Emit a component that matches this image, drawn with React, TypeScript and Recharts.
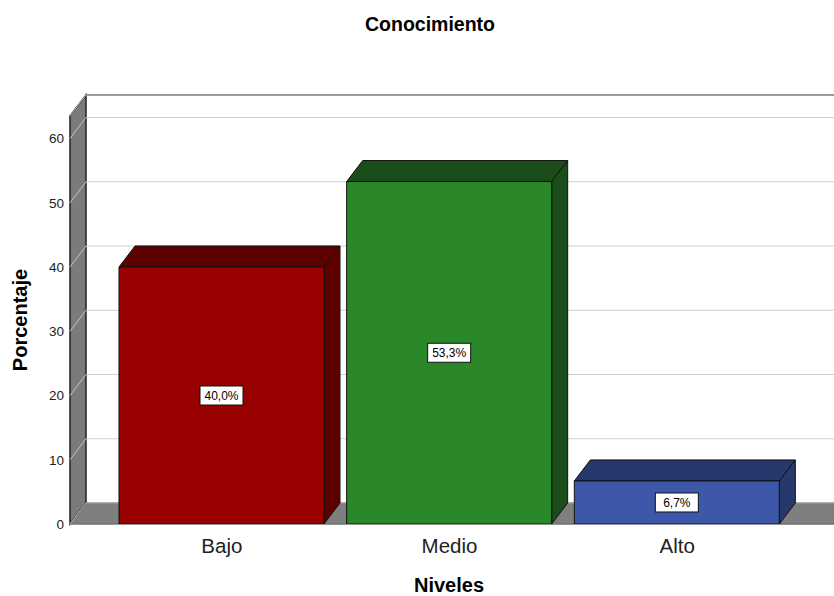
import React from 'react';
import { BarChart, Bar, XAxis, YAxis, CartesianGrid, LabelList } from 'recharts';

const categories = ['Bajo', 'Medio', 'Alto'];
const porcentajes = [40.0, 53.3, 6.7];
const yTicks = [0, 10, 20, 30, 40, 50, 60];

const data = categories.map((name, i) => ({ name, value: porcentajes[i] }));

// styles (by category)
const frontColors = ['#990000', '#2a882a', '#3d58a8'];
const topColors = ['#5e0000', '#1b4d1b', '#26386c'];

const W = 834;
const H = 596;
const PLOT_TOP = 116;
const X_AXIS_H = 72;
const AXIS_W = 70;
const DX = 16;
const DY = 21;
const FONT = '"Liberation Sans", Arial, sans-serif';

const fmt = (v: number) => v.toFixed(1).replace('.', ',') + '%';

const Bar3D = (props: any) => {
  const { x, y, width, height, payload } = props;
  const i = Math.max(0, categories.indexOf(payload?.name));
  const front = frontColors[i];
  const top = topColors[i];
  return (
    <g stroke="#111" strokeWidth={1} strokeLinejoin="round">
      <polygon
        points={`${x},${y} ${x + DX},${y - DY} ${x + width + DX},${y - DY} ${x + width},${y}`}
        fill={top}
      />
      <polygon
        points={`${x + width},${y} ${x + width + DX},${y - DY} ${x + width + DX},${y + height - DY} ${x + width},${y + height}`}
        fill={top}
      />
      <rect x={x} y={y} width={width} height={height} fill={front} />
    </g>
  );
};

const ValueBox = (props: any) => {
  const { x, y, width, height, value } = props;
  const cx = x + width / 2;
  const cy = y + height / 2;
  const txt = fmt(Number(value));
  const bw = 43;
  const bh = 19;
  return (
    <g>
      <rect x={cx - bw / 2} y={cy - bh / 2} width={bw} height={bh} fill="#fff" stroke="#111" strokeWidth={1} />
      <text x={cx} y={cy} dy="0.36em" textAnchor="middle" fontSize={12} fontFamily={FONT} fill="#000">
        {txt}
      </text>
    </g>
  );
};

const GridLine = (props: any) => {
  const { x1, x2, y1 } = props;
  return (
    <g key={props.key}>
      <line x1={x1} y1={y1} x2={x1 + DX} y2={y1 - DY} stroke="#c4c4c4" strokeWidth={1} />
      <line x1={x1 + DX} y1={y1 - DY} x2={x2 + DX} y2={y1 - DY} stroke="#cfcfcf" strokeWidth={1} />
    </g>
  );
};

const CatTick = (props: any) => {
  const { x, payload } = props;
  return (
    <text x={x} y={H - X_AXIS_H + 29} textAnchor="middle" fontSize={20.5} fontFamily={FONT} fill="#222">
      {payload.value}
    </text>
  );
};

const ValTick = (props: any) => {
  const { y, payload } = props;
  return (
    <text x={64} y={y} dy="0.36em" textAnchor="end" fontSize={13.5} fontFamily={FONT} fill="#222">
      {payload.value}
    </text>
  );
};

function Background() {
  const left = AXIS_W;
  const bottom = H - X_AXIS_H;
  const topY = PLOT_TOP;
  return (
    <svg width={W} height={H} style={{ position: 'absolute', left: 0, top: 0 }}>
      <rect x={0} y={0} width={W} height={H} fill="#fff" />
      {/* back wall */}
      <rect x={left + DX} y={topY - DY} width={W} height={bottom - topY} fill="#fff" />
      <line x1={left + DX} y1={topY - DY} x2={W} y2={topY - DY} stroke="#333" strokeWidth={1.5} />
      {/* left wall */}
      <polygon
        points={`${left},${topY} ${left + DX},${topY - DY} ${left + DX},${bottom - DY} ${left},${bottom}`}
        fill="#7b7b7b"
        stroke="#222"
        strokeWidth={1.5}
      />
      {/* floor */}
      <polygon
        points={`${left},${bottom} ${left + DX},${bottom - DY} ${W + 40},${bottom - DY} ${W + 20},${bottom}`}
        fill="#7f7f7f"
        stroke="#222"
        strokeWidth={1}
      />
      <line x1={left} y1={bottom} x2={W} y2={bottom} stroke="#999" strokeWidth={1} />
      <text x={430} y={31} textAnchor="middle" fontSize={19.5} fontWeight="bold" fontFamily={FONT} fill="#000">
        Conocimiento
      </text>
      <text
        x={27}
        y={320}
        textAnchor="middle"
        fontSize={20}
        fontWeight="bold"
        fontFamily={FONT}
        fill="#000"
        transform="rotate(-90 27 320)"
      >
        Porcentaje
      </text>
      <text x={449} y={592} textAnchor="middle" fontSize={20} fontWeight="bold" fontFamily={FONT} fill="#000">
        Niveles
      </text>
    </svg>
  );
}

export default function App() {
  return (
    <div style={{ position: 'absolute', left: 0, top: 0, width: W, height: H, background: '#fff' }}>
      <Background />
      <div style={{ position: 'absolute', left: 0, top: 0 }}>
        <BarChart
          width={W}
          height={H}
          data={data}
          margin={{ top: PLOT_TOP, right: 0, bottom: 0, left: 0 }}
          style={{ background: 'transparent' }}
        >
          <CartesianGrid vertical={false} horizontal={GridLine} stroke="none" />
          <XAxis
            dataKey="name"
            axisLine={false}
            tickLine={false}
            tick={CatTick}
            padding={{ left: 38, right: 43 }}
            height={X_AXIS_H}
          />
          <YAxis
            type="number"
            domain={[0, 63.5]}
            ticks={yTicks}
            allowDataOverflow
            axisLine={false}
            tickLine={false}
            width={AXIS_W}
            tick={ValTick}
          />
          <Bar dataKey="value" barSize={205} shape={Bar3D} isAnimationActive={false}>
            <LabelList dataKey="value" content={ValueBox} />
          </Bar>
        </BarChart>
      </div>
    </div>
  );
}
